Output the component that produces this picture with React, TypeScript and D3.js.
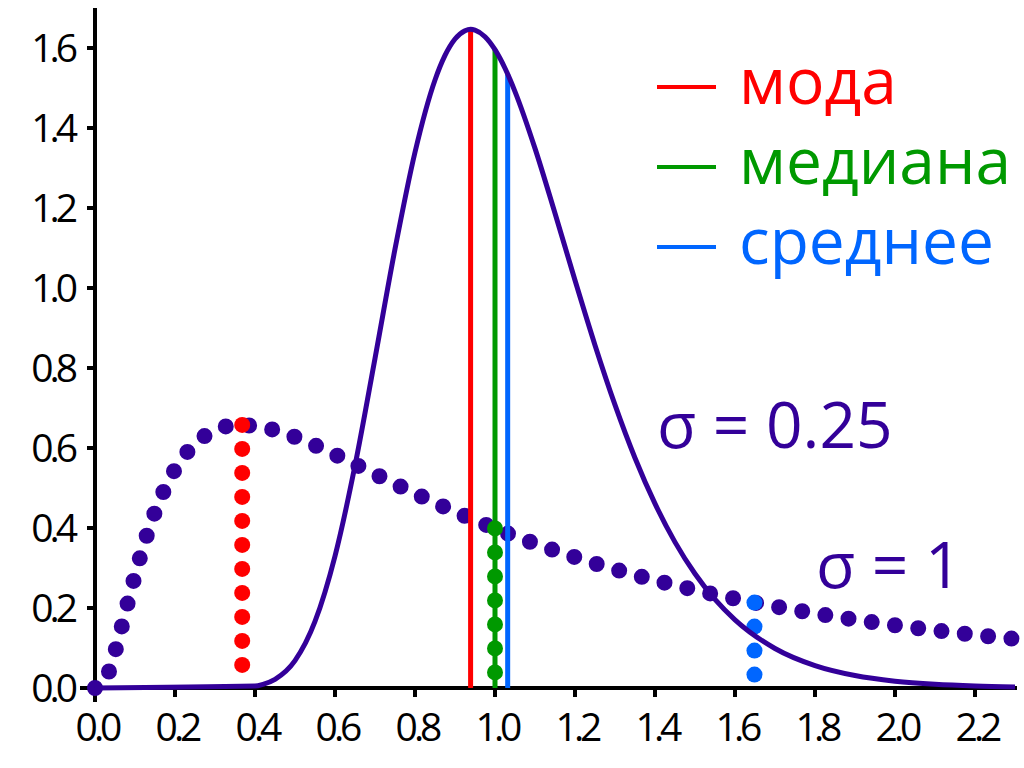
import React from "react";
import * as d3 from "d3";

const xTicks = [0, 0.2, 0.4, 0.6, 0.8, 1.0, 1.2, 1.4, 1.6, 1.8, 2.0, 2.2];
const yTicks = [0, 0.2, 0.4, 0.6, 0.8, 1.0, 1.2, 1.4, 1.6];

// sigma = 0.25 curve (solid)
const narrowX = [0, 0.4, 0.42, 0.45, 0.5, 0.55, 0.6, 0.65, 0.7, 0.75, 0.8, 0.85, 0.875, 0.9, 0.925, 0.939, 0.95, 0.975, 1.0, 1.025, 1.05, 1.1, 1.15, 1.2, 1.25, 1.3, 1.35, 1.4, 1.45, 1.5, 1.55, 1.6, 1.7, 1.8, 1.9, 2.0, 2.1, 2.2, 2.3];
const narrowY = [0, 0.0048, 0.0092, 0.0216, 0.0683, 0.1663, 0.3298, 0.5561, 0.8239, 1.0973, 1.3393, 1.52, 1.5814, 1.6224, 1.6433, 1.647, 1.6448, 1.6283, 1.5958, 1.5493, 1.4911, 1.349, 1.1868, 1.0193, 0.8571, 0.7078, 0.5751, 0.4608, 0.3647, 0.2855, 0.2213, 0.1703, 0.0987, 0.0559, 0.0311, 0.0171, 0.0093, 0.005, 0.0027];

// sigma = 1 curve (dotted)
const wideX = [0, 0.01, 0.02, 0.03, 0.04, 0.05, 0.06, 0.07, 0.08, 0.09, 0.1, 0.12, 0.15, 0.175, 0.2, 0.25, 0.3, 0.35, 0.4, 0.45, 0.5, 0.6, 0.7, 0.8, 0.9, 1.0, 1.1, 1.2, 1.3, 1.4, 1.5, 1.6, 1.7, 1.8, 1.9, 2.0, 2.1, 2.2, 2.3];
const wideY = [0, 0.001, 0.0095, 0.0284, 0.0562, 0.0898, 0.1271, 0.166, 0.2054, 0.2442, 0.2816, 0.3512, 0.44, 0.499, 0.5464, 0.6104, 0.6442, 0.657, 0.6555, 0.6445, 0.6275, 0.5836, 0.5348, 0.4864, 0.4408, 0.3989, 0.361, 0.327, 0.2965, 0.2693, 0.245, 0.2233, 0.2039, 0.1865, 0.1709, 0.1569, 0.1443, 0.1329, 0.1226];

// statistics of sigma = 0.25 (solid verticals)
const solidStats = ["мода", "медиана", "среднее"];
const solidStatX = [0.939, 1.0, 1.0317];
const solidStatTop = [1.647, 1.596, 1.5345];

// statistics of sigma = 1 (dotted verticals)
const dotStatX = [0.368, 1.0, 1.6487];
const dotRed = [0.6577, 0.5977, 0.5377, 0.4777, 0.4177, 0.3577, 0.2977, 0.2377, 0.1777, 0.1177, 0.0577];
const dotGreen = [0.399, 0.339, 0.279, 0.219, 0.159, 0.099, 0.039];
const dotBlue = [0.2135, 0.1535, 0.0935, 0.0335];

const statColors = ["#ff0000", "#009900", "#0066ff"];
const purple = "#330099";

export default function App() {
  const W = 1024, H = 768;
  const x = d3.scaleLinear().domain([0, 2.3]).range([95, 1015]);
  const y = d3.scaleLinear().domain([0, 1.6]).range([688, 48]);

  const line = d3
    .line<[number, number]>()
    .x((d) => x(d[0]))
    .y((d) => y(d[1]))
    .curve(d3.curveMonotoneX);

  const narrowPath = line(narrowX.map((v, i) => [v, narrowY[i]] as [number, number])) || "";
  const widePath = line(wideX.map((v, i) => [v, wideY[i]] as [number, number])) || "";
  const dotSets = [dotRed, dotGreen, dotBlue];

  const font = "'Open Sans', 'Noto Sans', sans-serif";

  return (
    <svg
      width={W}
      height={H}
      style={{ position: "absolute", left: 0, top: 0, background: "#fff" }}
      fontFamily={font}
    >
      {/* axes */}
      <line x1={x(0)} x2={x(0)} y1={8} y2={702} stroke="#000" strokeWidth={4} />
      <line x1={80} x2={1017} y1={y(0)} y2={y(0)} stroke="#000" strokeWidth={4} />
      {yTicks.map((t) => (
        <g key={"y" + t}>
          <line x1={87} x2={x(0)} y1={y(t)} y2={y(t)} stroke="#000" strokeWidth={4} />
          <text
            x={74}
            y={y(t) + 14}
            textAnchor="end"
            fontSize={39}
            letterSpacing={-4}
            fill="#000"
          >
            {t.toFixed(1)}
          </text>
        </g>
      ))}
      {xTicks.map((t) => (
        <g key={"x" + t}>
          <line x1={x(t)} x2={x(t)} y1={y(0)} y2={697} stroke="#000" strokeWidth={4} />
          <text
            x={x(t) + 2}
            y={741}
            textAnchor="middle"
            fontSize={39}
            letterSpacing={-4}
            fill="#000"
          >
            {t.toFixed(1)}
          </text>
        </g>
      ))}

      {/* sigma = 1 dotted curve */}
      <path
        d={widePath}
        fill="none"
        stroke={purple}
        strokeWidth={16}
        strokeLinecap="round"
        strokeDasharray="0 23.45"
      />

      {/* solid verticals for sigma = 0.25 */}
      {solidStatX.map((v, i) => (
        <line
          key={"s" + i}
          x1={x(v)}
          x2={x(v)}
          y1={y(0)}
          y2={y(solidStatTop[i])}
          stroke={statColors[i]}
          strokeWidth={5}
        />
      ))}

      {/* dotted verticals for sigma = 1 */}
      {dotSets.map((set, i) =>
        set.map((v, j) => (
          <circle key={"d" + i + "-" + j} cx={x(dotStatX[i])} cy={y(v)} r={8} fill={statColors[i]} />
        ))
      )}

      {/* sigma = 0.25 solid curve */}
      <path d={narrowPath} fill="none" stroke={purple} strokeWidth={5} strokeLinejoin="round" />

      {/* legend */}
      {solidStats.map((s, i) => (
        <g key={"l" + i}>
          <line x1={657} x2={716} y1={87 + i * 80} y2={87 + i * 80} stroke={statColors[i]} strokeWidth={4} />
          <text x={739} y={104 + i * 80} fontSize={64} fill={statColors[i]}>
            {s}
          </text>
        </g>
      ))}

      <text x={657} y={448} fontSize={64} fill={purple}>
        σ = 0.25
      </text>
      <text x={816} y={588} fontSize={64} fill={purple}>
        σ = 1
      </text>
    </svg>
  );
}
